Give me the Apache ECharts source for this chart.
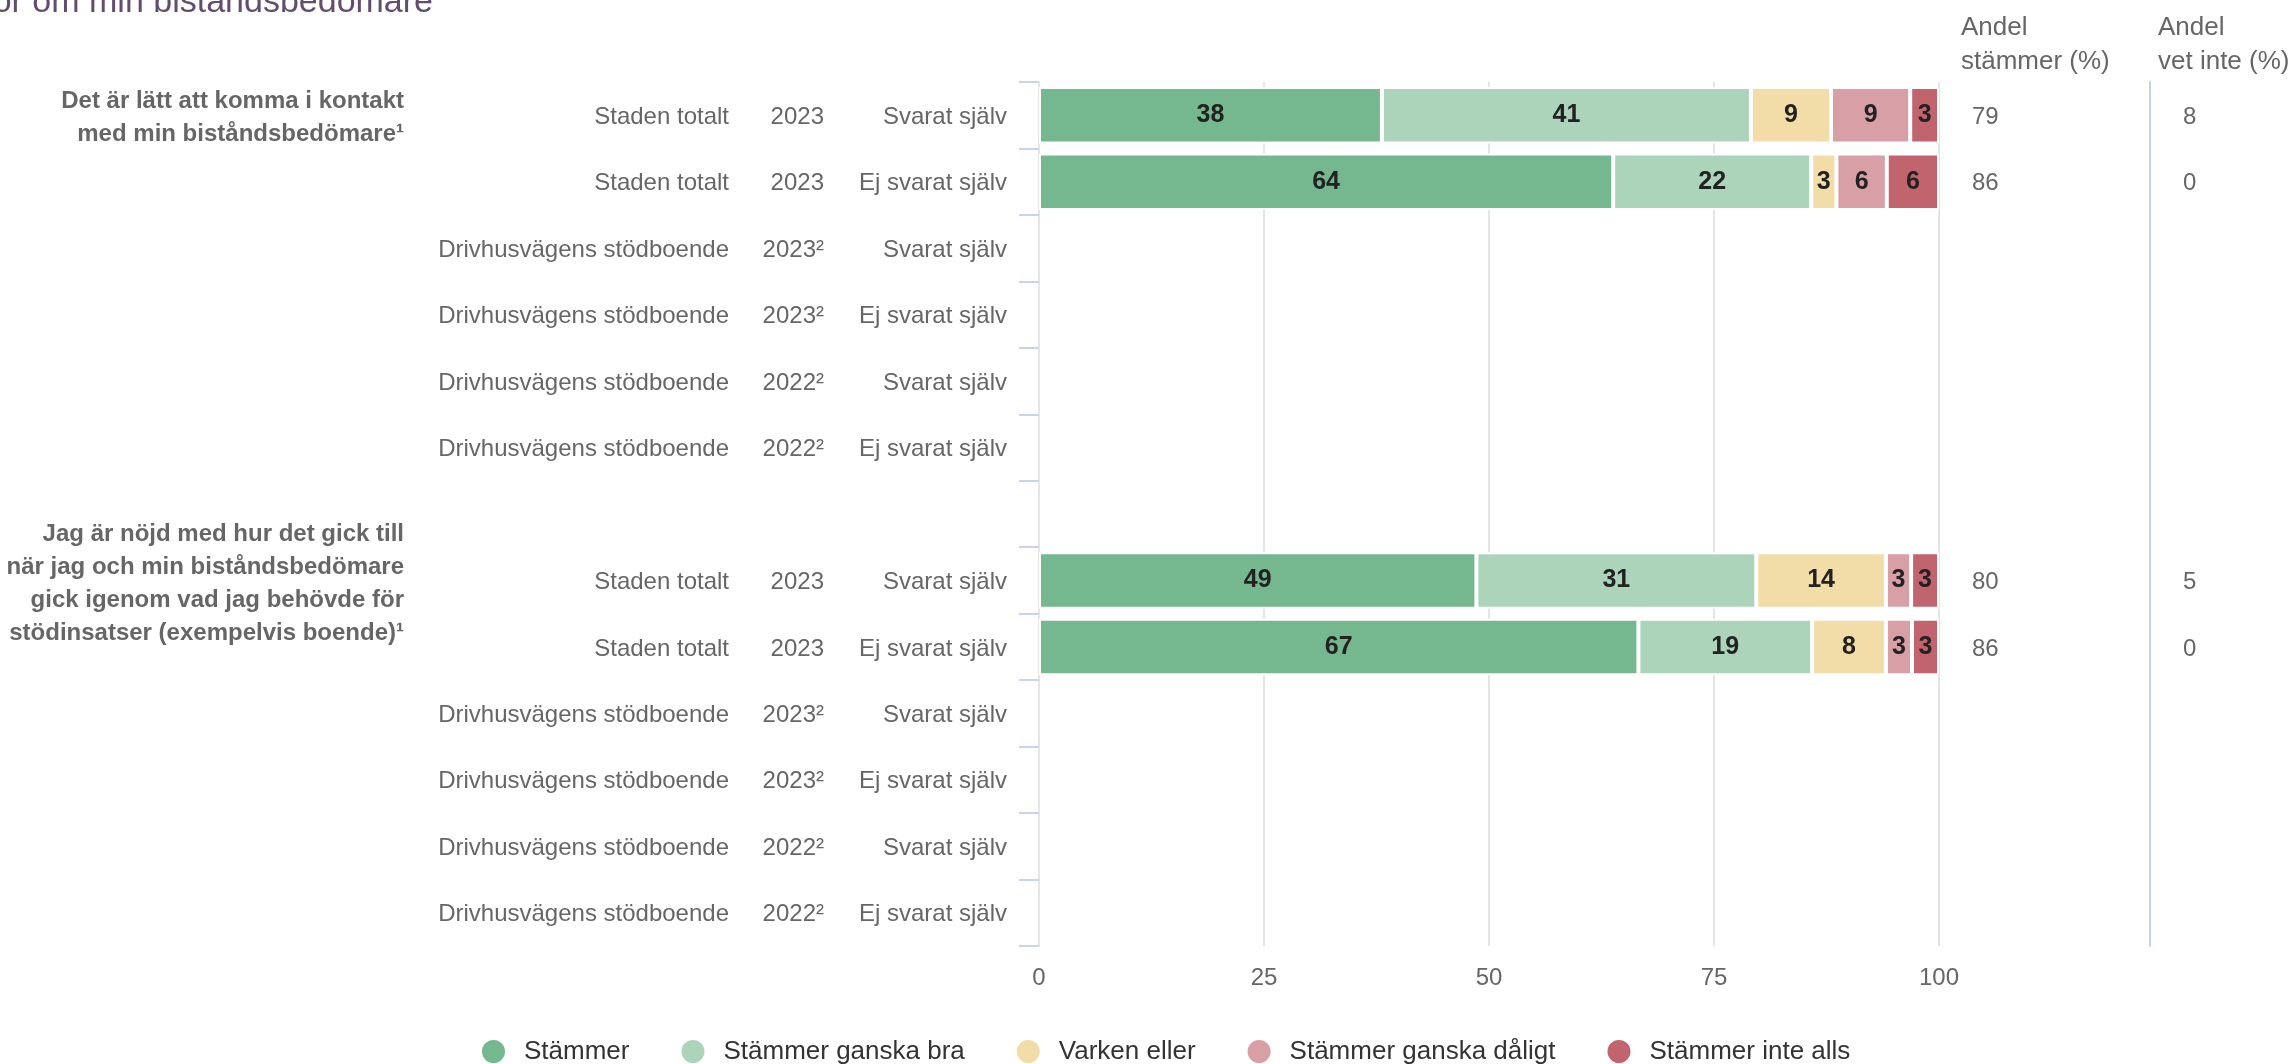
<!DOCTYPE html>
<html>
<head>
<meta charset="utf-8">
<script src="https://cdn.jsdelivr.net/npm/echarts@6/dist/echarts.min.js"></script>
<style>
  html, body { margin: 0; padding: 0; background: #fff; }
  #chart { width: 2294px; height: 1064px; }
</style>
</head>
<body>
<div id="chart"></div>
<script>
// Answer categories (legend order)
var seriesNames = ['Stämmer', 'Stämmer ganska bra', 'Varken eller', 'Stämmer ganska dåligt', 'Stämmer inte alls'];
var colors = ['#75b78e', '#acd4ba', '#f2dca8', '#d99fa6', '#c1646e'];

// Row labels (13 rows, row 6 is the gap between the two questions)
var units = ['Staden totalt', 'Staden totalt', 'Drivhusvägens stödboende', 'Drivhusvägens stödboende', 'Drivhusvägens stödboende', 'Drivhusvägens stödboende', '',
  'Staden totalt', 'Staden totalt', 'Drivhusvägens stödboende', 'Drivhusvägens stödboende', 'Drivhusvägens stödboende', 'Drivhusvägens stödboende'];
var years = ['2023', '2023', '2023²', '2023²', '2022²', '2022²', '',
  '2023', '2023', '2023²', '2023²', '2022²', '2022²'];
var respondents = ['Svarat själv', 'Ej svarat själv', 'Svarat själv', 'Ej svarat själv', 'Svarat själv', 'Ej svarat själv', '',
  'Svarat själv', 'Ej svarat själv', 'Svarat själv', 'Ej svarat själv', 'Svarat själv', 'Ej svarat själv'];

// Shares (%) per answer
var stammer      = [38.1, 63.8, null, null, null, null, null, 48.6, 66.6, null, null, null, null];
var ganskaBra    = [41.0, 22.0, null, null, null, null, null, 31.1, 19.3, null, null, null, null];
var varkenEller  = [8.9, 2.8, null, null, null, null, null, 14.4, 8.2, null, null, null, null];
var ganskaDaligt = [8.8, 5.6, null, null, null, null, null, 2.8, 2.9, null, null, null, null];
var inteAlls     = [3.2, 5.8, null, null, null, null, null, 3.1, 3.0, null, null, null, null];

// Right-hand columns
var andelStammer = ['79', '86', '', '', '', '', '', '80', '86', '', '', '', ''];
var andelVetInte = ['8', '0', '', '', '', '', '', '5', '0', '', '', '', ''];

// Question texts and the row they belong to
var questions = [
  'Det är lätt att komma i kontakt\nmed min biståndsbedömare¹',
  'Jag är nöjd med hur det gick till\nnär jag och min biståndsbedömare\ngick igenom vad jag behövde för\nstödinsatser (exempelvis boende)¹'
];
var questionRows = [0, 7];

var rowIds = units.map(function (u, i) { return String(i); });
var seriesValues = [stammer, ganskaBra, varkenEller, ganskaDaligt, inteAlls];

var font = "'Liberation Sans', Arial, Helvetica, sans-serif";

var myChart = echarts.init(document.getElementById('chart'), null, { renderer: 'canvas' });

var option = {
  animation: false,
  textStyle: { fontFamily: font },
  title: [
    {
      text: 'Andel\nstämmer (%)', left: 1961, top: 11, padding: 0,
      textStyle: { fontSize: 26, fontWeight: 'normal', color: '#666', lineHeight: 34, fontFamily: font }
    },
    {
      text: 'Andel\nvet inte (%)', left: 2158, top: 11, padding: 0,
      textStyle: { fontSize: 26, fontWeight: 'normal', color: '#666', lineHeight: 34, fontFamily: font }
    }
  ],
  legend: {
    data: seriesNames,
    left: 480,
    top: 1038,
    padding: 0,
    icon: 'circle',
    itemWidth: 25,
    itemHeight: 25,
    itemGap: 50,
    textStyle: { fontSize: 26, color: '#333', padding: [0, 0, 0, 13], fontFamily: font }
  },
  grid: { left: 1039, right: 355, top: 82, bottom: 118, containLabel: false },
  xAxis: {
    type: 'value',
    min: 0,
    max: 100,
    interval: 25,
    axisLine: { show: false },
    axisTick: { show: false },
    axisLabel: { fontSize: 24, color: '#666', margin: 20, fontFamily: font },
    splitLine: { lineStyle: { color: '#e4e4e4', width: 2 } }
  },
  yAxis: [
    {
      type: 'category',
      data: rowIds,
      inverse: true,
      axisLine: { show: true, lineStyle: { color: '#e6e6ea', width: 2 } },
      axisTick: { show: true, length: 20, lineStyle: { color: '#c9d3ec', width: 2 } },
      axisLabel: {
        margin: 32,
        formatter: function (v, i) {
          if (!units[i]) return '';
          return '{n|' + units[i] + '}{y|' + years[i] + '}{r|' + respondents[i] + '}';
        },
        rich: {
          n: { width: 300, align: 'right', fontSize: 24, color: '#666', fontFamily: font, padding: [4, 0, 0, 0] },
          y: { width: 95, align: 'right', fontSize: 24, color: '#666', fontFamily: font, padding: [4, 0, 0, 0] },
          r: { width: 183, align: 'right', fontSize: 24, color: '#666', fontFamily: font, padding: [4, 0, 0, 0] }
        }
      }
    },
    {
      type: 'category',
      data: rowIds,
      inverse: true,
      position: 'right',
      axisLine: { show: false },
      axisTick: { show: false },
      axisLabel: {
        margin: 33,
        formatter: function (v, i) {
          if (!andelStammer[i]) return '';
          return '{s|' + andelStammer[i] + '}{v|' + andelVetInte[i] + '}';
        },
        rich: {
          s: { width: 211, align: 'left', fontSize: 24, color: '#666', fontFamily: font, padding: [4, 0, 0, 0] },
          v: { align: 'left', fontSize: 24, color: '#666', fontFamily: font, padding: [4, 0, 0, 0] }
        }
      }
    },
    {
      type: 'category',
      data: rowIds,
      inverse: true,
      position: 'right',
      offset: 211,
      axisLine: { show: true, lineStyle: { color: '#c5d0ea', width: 2 } },
      axisTick: { show: false },
      axisLabel: { show: false }
    }
  ],
  series: seriesNames.map(function (name, k) {
    return {
      name: name,
      type: 'bar',
      stack: 'total',
      yAxisIndex: 0,
      barCategoryGap: '15%',
      data: seriesValues[k],
      itemStyle: { color: colors[k], borderColor: '#fff', borderWidth: 2 },
      emphasis: { disabled: true },
      label: {
        show: true,
        position: 'inside',
        fontSize: 25,
        fontWeight: 'bold',
        color: '#222',
        fontFamily: font,
        formatter: function (p) { return p.value == null ? '' : String(Math.round(p.value)); }
      }
    };
  })
};

myChart.setOption(option);

// Question texts and the (cut-off) heading, placed from the axis scale
var graphics = questions.map(function (q, i) {
  var y = myChart.convertToPixel({ yAxisIndex: 0 }, questionRows[i]);
  return {
    type: 'text',
    x: 404,
    y: y + 3,
    style: {
      text: q,
      align: 'right',
      verticalAlign: 'middle',
      font: 'bold 24px ' + font,
      fill: '#666',
      lineHeight: 33
    }
  };
});
graphics.push({
  type: 'text',
  x: 433,
  y: 20,
  style: {
    text: 'för om min biståndsbedömare',
    align: 'right',
    verticalAlign: 'bottom',
    font: '34px ' + font,
    fill: '#634d6f'
  }
});
myChart.setOption({ graphic: graphics });

window.addEventListener('resize', myChart.resize);
</script>
</body>
</html>
